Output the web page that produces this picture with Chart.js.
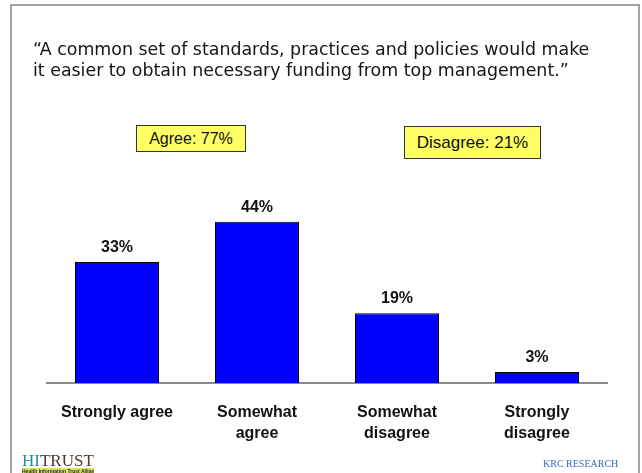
<!DOCTYPE html>
<html>
<head>
<meta charset="utf-8">
<script src="https://cdn.jsdelivr.net/npm/chart.js@4"></script>
<style>
  html, body { margin: 0; padding: 0; background: #fff; }
  #wrap { position: relative; width: 642px; height: 473px; overflow: hidden; background: #fff; }
  #frame { position: absolute; left: 10px; top: 4px; width: 630px; height: 600px; border: 2px solid #a3a3a3; box-sizing: border-box; }
  #chart { position: absolute; left: 0; top: 0; }
  .title { position: absolute; left: 33px; top: 39px; font: 17.4px "DejaVu Sans"; color: #151515; line-height: 21px; white-space: nowrap; }
  .box { position: absolute; background: #ffff66; border: 1px solid #333; box-sizing: border-box;
         font-family: "Liberation Sans"; color: #111; text-align: center; white-space: nowrap; }
  #hitrust { position: absolute; left: 22px; top: 452px; font: 17px "Liberation Serif"; line-height: 17px; }
  #hitrust-tag { position: absolute; left: 22px; top: 468px; width: 72px; height: 6px; background: #d6e65a;
                 font: bold 5px "Liberation Sans"; line-height: 6px; color: #2d2d2d; text-align: center; white-space: nowrap; overflow: hidden; }
  #krc { position: absolute; left: 543px; top: 458px; font: 10px "Liberation Serif"; color: #3a6db5; white-space: nowrap; }
</style>
</head>
<body>
<div id="wrap">
  <div id="frame"></div>
  <canvas id="chart" width="642" height="473"></canvas>
  <div class="title">“A common set of standards, practices and policies would make<br>it easier to obtain necessary funding from top management.”</div>
  <div class="box" id="agreeBox" style="left:136px; top:125px; width:110px; height:27px; font-size:16px; line-height:25px;"></div>
  <div class="box" id="disagreeBox" style="left:404px; top:126px; width:137px; height:33px; font-size:17px; line-height:31px;"></div>
  <div id="hitrust"><span style="color:#2b8a96">HI</span><span style="color:#4a3b2c">TRUST</span></div>
  <div id="hitrust-tag">Health Information Trust Alliance</div>
  <div id="krc">KRC RESEARCH</div>
</div>
<script>
// Survey responses (percent of respondents)
const categories = [["Strongly agree"], ["Somewhat", "agree"], ["Somewhat", "disagree"], ["Strongly", "disagree"]];
const shares = [33, 44, 19, 3];
const agreeTotal = 77;
const disagreeTotal = 21;
const yMax = 60;

document.getElementById('agreeBox').textContent = 'Agree: ' + agreeTotal + '%';
document.getElementById('disagreeBox').textContent = 'Disagree: ' + disagreeTotal + '%';

// Percent labels above each bar
const valueLabels = {
  id: 'valueLabels',
  afterDatasetsDraw(chart) {
    const ctx = chart.ctx;
    const meta = chart.getDatasetMeta(0);
    ctx.save();
    ctx.font = 'bold 16px "Liberation Sans"';
    ctx.fillStyle = '#111';
    ctx.textAlign = 'center';
    ctx.textBaseline = 'alphabetic';
    meta.data.forEach((bar, i) => {
      ctx.fillText(shares[i] + '%', bar.x, bar.y - 10);
    });
    ctx.restore();
  }
};

new Chart(document.getElementById('chart'), {
  type: 'bar',
  data: {
    labels: categories,
    datasets: [{
      data: shares,
      backgroundColor: '#0000ff',
      borderColor: '#000000',
      borderWidth: 1,
      borderSkipped: 'bottom',
      barPercentage: 0.6,
      categoryPercentage: 1.0
    }]
  },
  options: {
    responsive: false,
    animation: false,
    layout: { padding: { left: 47, right: 35, top: 163, bottom: 0 } },
    plugins: { legend: { display: false }, tooltip: { enabled: false } },
    scales: {
      x: {
        grid: { display: false, drawTicks: false },
        border: { display: true, color: '#8a8a8a', width: 2 },
        ticks: {
          color: '#111',
          font: { family: 'Liberation Sans', size: 16, weight: 'bold', lineHeight: 1.3 },
          padding: 19,
          maxRotation: 0,
          autoSkip: false
        },
        afterFit(scale) { scale.height = 90; }
      },
      y: { display: false, min: 0, max: yMax }
    }
  },
  plugins: [valueLabels]
});
</script>
</body>
</html>
